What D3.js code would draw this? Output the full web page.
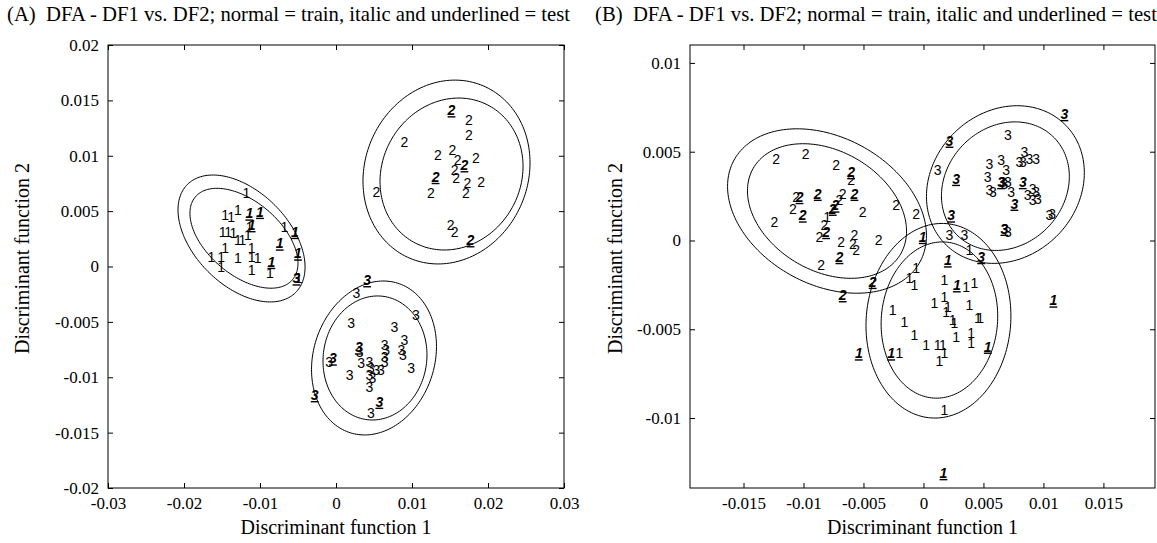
<!DOCTYPE html>
<html>
<head>
<meta charset="utf-8">
<script src="https://cdn.jsdelivr.net/npm/d3@7"></script>
<style>
  body { margin: 0; background: #fff; }
  svg text { font-family: "Liberation Serif", "Times New Roman", serif; fill: #000; }
  svg text.pt { font-family: "Liberation Sans", Arial, sans-serif; font-size: 14px; }
  svg text.test { font-weight: bold; font-style: italic; text-decoration: underline; }
</style>
</head>
<body>
<svg width="1157" height="543"></svg>
<script>
// ---- panel A data: [DF1, DF2] ----
const aTrain1 = [[-0.0118,0.00661],[-0.0146,0.00465],[-0.0138,0.00449],[-0.0129,0.0051],[-0.0149,0.00314],
  [-0.0142,0.00314],[-0.0135,0.00302],[-0.0129,0.00239],[-0.0123,0.00239],[-0.0116,0.00284],[-0.0114,0.00359],
  [-0.0146,0.00167],[-0.0164,0.00088],[-0.0151,0.00088],[-0.0151,-0.00002],[-0.0129,0.00074],[-0.0111,0.00167],
  [-0.0111,0.00088],[-0.0103,0.00074],[-0.0111,-0.00032],[-0.0087,-0.00061],[-0.0068,0.00359],[-0.0049,-0.00104]]
const aTest1 = [[-0.0114,0.0048],[-0.01,0.00495],[-0.0111,0.00375],[-0.0074,0.00209],[-0.0054,0.00314],
  [-0.005,0.00119],[-0.0085,0.00043]]
const aTrain2 = [[0.009,0.01126],[0.0175,0.01322],[0.0175,0.01187],[0.0134,0.01006],[0.0153,0.01051],
  [0.0184,0.00977],[0.016,0.00961],[0.0156,0.00871],[0.0158,0.00796],[0.0173,0.00751],[0.0171,0.00661],
  [0.0191,0.00765],[0.0125,0.00661],[0.0053,0.00675],[0.0151,0.00375],[0.0156,0.00314]]
const aTest2 = [[0.0152,0.01412],[0.0169,0.00916],[0.0131,0.0081],[0.0177,0.00239]]
const aTrain3 = [[0.0027,-0.00242],[0.0105,-0.00438],[0.002,-0.00513],[0.0077,-0.00543],[0.009,-0.00663],
  [0.0031,-0.00769],[0.0064,-0.00708],[0.0066,-0.00754],[0.0064,-0.00814],[0.0064,-0.00859],[0.0086,-0.00754],
  [0.0088,-0.00799],[-0.0009,-0.00859],[0.0033,-0.00874],[0.0044,-0.00859],[0.0046,-0.00919],[0.0053,-0.00934],
  [0.0059,-0.00934],[0.0099,-0.00919],[0.0018,-0.00979],[0.0044,-0.00979],[0.0048,-0.01009],[0.0044,-0.01085],
  [0.0046,-0.01325]]
const aTest3 = [[0.0041,-0.00122],[-0.0052,-0.00106],[0.003,-0.00729],[-0.0004,-0.00829],[0.0057,-0.0122],
  [-0.0028,-0.0116]]
// ellipses: [centre DF1, centre DF2, half width, half height, correlation]
const aEllipses = [[-0.01243,0.00253,0.00836,0.00573,-0.45],[-0.01211,0.00255,0.00711,0.00451,-0.5],
  [0.01454,0.00853,0.01099,0.0083,0.1],[0.0152,0.00835,0.00941,0.00686,0.1],
  [0.005,-0.00826,0.00822,0.00695,0.15],[0.00513,-0.00826,0.00684,0.0056,0.05]]

// ---- panel B data ----
const bTrain1 = [[-0.00803,0.00133],[-0.00061,-0.00157],[-0.00117,-0.00213],[-0.00075,-0.00251],[0.00175,-0.00223],
  [0.00356,-0.0026],[0.00425,-0.00242],[0.00175,-0.00316],[0.00203,-0.00372],[0.00189,-0.004],[0.00092,-0.00354],
  [0.00383,-0.00363],[-0.00256,-0.00392],[-0.00158,-0.00457],[0.00244,-0.00448],[0.00258,-0.00466],
  [0.00453,-0.00438],[0.00473,-0.00438],[-0.00075,-0.00532],[0.00273,-0.00541],[0.00398,-0.00522],
  [0.00398,-0.00579],[0.00023,-0.00588],[0.00119,-0.00588],[0.00161,-0.00588],[0.00175,-0.00635],
  [0.00133,-0.00681],[-0.002,-0.00635],[0.00175,-0.00953],[0.00383,-0.00054]]
const bTest1 = [[-0.00006,0.00021],[0.00203,-0.00111],[0.00278,-0.00251],[-0.00539,-0.00635],[-0.00269,-0.00635],
  [0.00536,-0.00597],[0.00167,-0.01309],[0.01083,-0.00337]]
const bTrain2 = [[-0.01228,0.00461],[-0.00983,0.00489],[-0.00728,0.00423],[-0.00603,0.00339],[-0.01061,0.00246],
  [-0.01089,0.0018],[-0.00673,0.00264],[-0.007,0.00226],[-0.01242,0.00105],[-0.00506,0.00161],[-0.00228,0.00198],
  [-0.00061,0.00152],[-0.00867,0.00021],[-0.00825,0.00086],[-0.00686,-0.00007],[-0.00575,0.0003],
  [-0.00589,-0.00017],[-0.00561,-0.00054],[-0.00373,0.00002],[-0.00853,-0.00139]]
const bTest2 = [[-0.00603,0.00386],[-0.00881,0.00264],[-0.00575,0.00264],[-0.01033,0.00246],[-0.00733,0.00198],
  [-0.00756,0.0018],[-0.01006,0.00142],[-0.00811,0.00049],[-0.007,-0.00092],[-0.00423,-0.00232],[-0.00673,-0.00307]]
const bTrain3 = [[0.00703,0.00592],[0.0055,0.00433],[0.00647,0.00451],[0.00689,0.00395],[0.008,0.00442],
  [0.00842,0.00498],[0.00883,0.00461],[0.00939,0.00461],[0.00828,0.00442],[0.00536,0.00358],[0.0055,0.00283],
  [0.00578,0.00274],[0.00661,0.0033],[0.00675,0.0032],[0.00703,0.0033],[0.00731,0.00274],[0.00869,0.00254],
  [0.00911,0.00292],[0.00939,0.00274],[0.00953,0.00236],[0.00911,0.00226],[0.0105,0.00142],[0.01073,0.00152],
  [0.00675,0.00067],[0.00703,0.00049],[0.00119,0.00395],[0.00217,0.0003],[0.00342,0.0003]]
const bTest3 = [[0.01175,0.00713],[0.00217,0.00563],[0.00272,0.00348],[0.00647,0.0033],[0.00828,0.0033],
  [0.00758,0.00208],[0.00675,0.00067],[0.00231,0.00142],[0.00481,-0.00092]]
const bEllipses = [[-0.00804,0.00166,0.00829,0.00463,-0.3],[-0.00804,0.00166,0.00663,0.00379,-0.3],
  [0.00683,0.00315,0.00658,0.00444,0.15],[0.00683,0.00306,0.00533,0.00362,0.15],
  [0.00125,-0.00452,0.00604,0.00548,0.05],[0.00133,-0.00448,0.00486,0.0044,0.05]]

// axes
const aXDomain = [-0.03, 0.03], aYDomain = [-0.02, 0.02]
const bXDomain = [-0.01946, 0.0193], bYDomain = [-0.01394, 0.01101]
const aXTicks = [-0.03, -0.02, -0.01, 0, 0.01, 0.02, 0.03]
const aYTicks = [-0.02, -0.015, -0.01, -0.005, 0, 0.005, 0.01, 0.015, 0.02]
const bXTicks = [-0.015, -0.01, -0.005, 0, 0.005, 0.01, 0.015]
const bYTicks = [-0.01, -0.005, 0, 0.005, 0.01]

const titleText = 'DFA - DF1 vs. DF2; normal = train, italic and underlined = test'
const xTitle = 'Discriminant function 1', yTitle = 'Discriminant function 2'

var svg = d3.select('svg')
const fmt = d => String(+d.toFixed(3))

function drawPanel (p) {
  var x = d3.scaleLinear().domain(p.xDomain).range([p.left, p.right]),
    y = d3.scaleLinear().domain(p.yDomain).range([p.bottom, p.top])
  var g = svg.append('g')

  g.append('text')
      .attr('x', p.titleX).attr('y', 21)
      .attr('font-size', 20.7)
      .attr('xml:space', 'preserve')
      .text(p.label + '  ' + titleText)

  g.append('rect')
      .attr('x', p.left).attr('y', p.top)
      .attr('width', p.right - p.left).attr('height', p.bottom - p.top)
      .attr('fill', 'none').attr('stroke', '#000').attr('stroke-width', 1)

  var axes = [
    [d3.axisBottom(x).tickValues(p.xTicks).tickFormat(fmt), 'translate(0,' + p.bottom + ')'],
    [d3.axisTop(x).tickValues(p.xTicks).tickFormat(''), 'translate(0,' + p.top + ')'],
    [d3.axisLeft(y).tickValues(p.yTicks).tickFormat(fmt), 'translate(' + p.left + ',0)'],
    [d3.axisRight(y).tickValues(p.yTicks).tickFormat(''), 'translate(' + p.right + ',0)']
  ]
  axes.forEach(function (a) {
    var ax = g.append('g')
        .attr('transform', a[1])
        .call(a[0].tickSize(-5).tickPadding(9))
    ax.select('.domain').remove()
    ax.selectAll('line').attr('stroke', '#000')
    ax.selectAll('text')
        .attr('font-family', '"Liberation Serif", serif')
        .attr('font-size', 17)
  })

  g.append('text')
      .attr('x', (p.left + p.right) / 2).attr('y', 534)
      .attr('text-anchor', 'middle').attr('font-size', 20)
      .text(xTitle)
  g.append('text')
      .attr('transform', 'translate(' + p.yTitleX + ',' + ((p.top + p.bottom) / 2 - 8) + ') rotate(-90)')
      .attr('text-anchor', 'middle').attr('font-size', 20)
      .text(yTitle)

  // confidence ellipses
  var ts = d3.range(0, 2 * Math.PI, Math.PI / 90)
  var line = d3.line().curve(d3.curveLinearClosed)
  g.selectAll('path.ell')
    .data(p.ellipses)
    .enter().append('path')
      .attr('class', 'ell')
      .attr('fill', 'none').attr('stroke', '#000').attr('stroke-width', 1)
      .attr('d', function (e) {
        var phi = Math.acos(e[4])
        return line(ts.map(t => [x(e[0] + e[2] * Math.cos(t)), y(e[1] + e[3] * Math.cos(t + phi))]))
      })

  p.groups.forEach(function (grp) {
    g.selectAll(null)
      .data(grp.pts)
      .enter().append('text')
        .attr('class', grp.test ? 'pt test' : 'pt')
        .attr('x', d => x(d[0]))
        .attr('y', d => y(d[1]))
        .attr('dy', '0.36em')
        .attr('text-anchor', 'middle')
        .text(grp.name)
  })
}

drawPanel({
  label: '(A)', titleX: 7, yTitleX: 29,
  left: 108, right: 564, top: 45, bottom: 488,
  xDomain: aXDomain, yDomain: aYDomain, xTicks: aXTicks, yTicks: aYTicks,
  ellipses: aEllipses,
  groups: [
    {name: '1', pts: aTrain1}, {name: '2', pts: aTrain2}, {name: '3', pts: aTrain3},
    {name: '1', pts: aTest1, test: true}, {name: '2', pts: aTest2, test: true}, {name: '3', pts: aTest3, test: true}
  ]
})

drawPanel({
  label: '(B)', titleX: 595, yTitleX: 622,
  left: 690, right: 1155, top: 45, bottom: 488,
  xDomain: bXDomain, yDomain: bYDomain, xTicks: bXTicks, yTicks: bYTicks,
  ellipses: bEllipses,
  groups: [
    {name: '1', pts: bTrain1}, {name: '2', pts: bTrain2}, {name: '3', pts: bTrain3},
    {name: '1', pts: bTest1, test: true}, {name: '2', pts: bTest2, test: true}, {name: '3', pts: bTest3, test: true}
  ]
})
</script>
</body>
</html>
